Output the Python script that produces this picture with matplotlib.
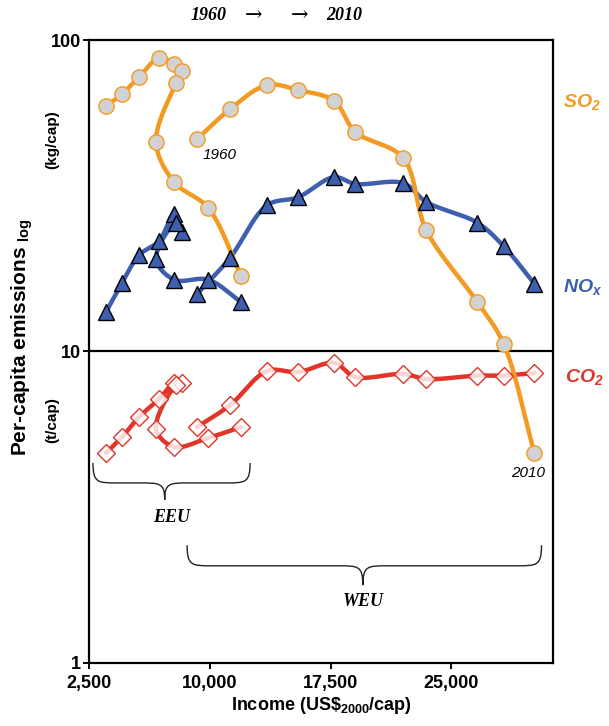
import numpy as np
import matplotlib
matplotlib.use('Agg')
import matplotlib.pyplot as plt
import matplotlib.transforms as mtransforms
from matplotlib.path import Path
from matplotlib.patches import PathPatch

plt.rcParams['font.family'] = ['Liberation Sans', 'DejaVu Sans']
plt.rcParams['mathtext.fontset'] = 'custom'
plt.rcParams['mathtext.rm'] = 'Liberation Sans'
plt.rcParams['mathtext.bf'] = 'Liberation Sans:bold'
plt.rcParams['mathtext.bfit'] = 'Liberation Sans:italic:bold'

# income (US$2000/cap), 1960 .. 2010 in 5-year steps
eeu_income = [3560, 4550, 5610, 6850, 7780, 8280, 7910, 6660, 7780, 9900, 11950]
weu_income = [9210, 11260, 13560, 15490, 17720, 19030, 22010, 23440, 26610, 28230, 30150]

# SO2 and NOx in kg/cap, CO2 in t/cap
eeu_so2 = [61.4, 67.1, 76.1, 87.5, 83.7, 79.5, 72.8, 47.1, 35.0, 28.9, 17.5]
weu_so2 = [48.1, 60.0, 71.7, 69.1, 63.7, 50.7, 41.8, 24.5, 14.4, 10.6, 4.72]
eeu_nox = [13.4, 16.6, 20.4, 22.6, 27.6, 24.2, 25.9, 19.8, 17.0, 17.0, 14.4]
weu_nox = [15.3, 20.0, 29.5, 31.3, 36.3, 34.5, 34.7, 30.2, 25.9, 21.8, 16.5]
eeu_co2 = [4.72, 5.31, 6.16, 7.04, 7.92, 7.92, 7.81, 5.64, 4.94, 5.28, 5.72]
weu_co2 = [5.72, 6.73, 8.66, 8.59, 9.19, 8.28, 8.47, 8.16, 8.37, 8.37, 8.53]

xticks = [2500, 10000, 17500, 25000]
xticklabels = ['2,500', '10,000', '17,500', '25,000']
yticks = [1, 10, 100]
yticklabels = ['1', '10', '100']

orange = '#f39a22'
blue = '#3e5eae'
red = '#e1352a'
serif = ['Liberation Serif', 'DejaVu Serif']


def smooth(x, y, n=16):
    # centripetal catmull-rom through the points, in screen-like units
    sx, sy = 62.0, 311.0
    P = np.column_stack([np.asarray(x, float) / sx, np.log10(y) * sy])
    P = np.vstack([2 * P[0] - P[1], P, 2 * P[-1] - P[-2]])
    out = []
    for i in range(1, len(P) - 2):
        p0, p1, p2, p3 = P[i - 1], P[i], P[i + 1], P[i + 2]
        t0 = 0.0
        t1 = t0 + max(np.linalg.norm(p1 - p0) ** 0.5, 1e-6)
        t2 = t1 + max(np.linalg.norm(p2 - p1) ** 0.5, 1e-6)
        t3 = t2 + max(np.linalg.norm(p3 - p2) ** 0.5, 1e-6)
        t = np.linspace(t1, t2, n)[:, None]
        a1 = (t1 - t) / (t1 - t0) * p0 + (t - t0) / (t1 - t0) * p1
        a2 = (t2 - t) / (t2 - t1) * p1 + (t - t1) / (t2 - t1) * p2
        a3 = (t3 - t) / (t3 - t2) * p2 + (t - t2) / (t3 - t2) * p3
        b1 = (t2 - t) / (t2 - t0) * a1 + (t - t0) / (t2 - t0) * a2
        b2 = (t3 - t) / (t3 - t1) * a2 + (t - t1) / (t3 - t1) * a3
        c = (t2 - t) / (t2 - t1) * b1 + (t - t1) / (t2 - t1) * b2
        out.append(c if i == 1 else c[1:])
    c = np.vstack(out)
    return c[:, 0] * sx, 10 ** (c[:, 1] / sy)


def series(ax, x, y, color, marker, ms, mfc, mec):
    sx, sy = smooth(x, y)
    ax.plot(sx, sy, color=color, lw=3.2, solid_capstyle='round', zorder=2)
    ax.plot(x, y, ls='none', marker=marker, ms=ms, mfc=mfc, mec=mec, mew=1.0, zorder=3)


def brace(ax, x0, x1, xc, ytop, ymid, ytip, r=1500):
    tr = mtransforms.blended_transform_factory(ax.transData, ax.transAxes)
    verts = [(x0, ytop),
             (x0, ymid), (x0 + 0.2 * r, ymid), (x0 + r, ymid),
             (xc - r, ymid),
             (xc - 0.2 * r, ymid), (xc, ymid), (xc, ytip),
             (xc, ymid), (xc + 0.2 * r, ymid), (xc + r, ymid),
             (x1 - r, ymid),
             (x1 - 0.2 * r, ymid), (x1, ymid), (x1, ytop)]
    codes = [Path.MOVETO,
             Path.CURVE4, Path.CURVE4, Path.CURVE4,
             Path.LINETO,
             Path.CURVE4, Path.CURVE4, Path.CURVE4,
             Path.CURVE4, Path.CURVE4, Path.CURVE4,
             Path.LINETO,
             Path.CURVE4, Path.CURVE4, Path.CURVE4]
    ax.add_patch(PathPatch(Path(verts, codes), fc='none', ec='#222222', lw=1.0,
                           transform=tr, clip_on=False))


fig = plt.figure(figsize=(6.09, 7.26), dpi=100)
ax = fig.add_axes([0.1461, 0.0868, 0.7619, 0.8581])

series(ax, eeu_income, eeu_co2, red, 'D', 9, (1, 1, 1, 0.8), red)
series(ax, weu_income, weu_co2, red, 'D', 9, (1, 1, 1, 0.8), red)
series(ax, eeu_income, eeu_nox, blue, '^', 11, blue, 'black')
series(ax, weu_income, weu_nox, blue, '^', 11, blue, 'black')
series(ax, eeu_income, eeu_so2, orange, 'o', 11, '#d2d2d2', orange)
series(ax, weu_income, weu_so2, orange, 'o', 11, '#d2d2d2', orange)

ax.axhline(10, color='black', lw=1.6, zorder=1)

ax.set_yscale('log')
ax.set_xlim(2500, 31300)
ax.set_ylim(1, 100)
ax.set_xticks(xticks)
ax.set_xticklabels(xticklabels)
ax.set_yticks(yticks)
ax.set_yticklabels(yticklabels)
ax.minorticks_off()
ax.tick_params(direction='out', length=4, width=1.4, labelsize=13)
ax.tick_params(axis='x', pad=5)
ax.tick_params(axis='y', pad=2)
for lab in ax.get_xticklabels() + ax.get_yticklabels():
    lab.set_fontweight('bold')
for sp in ax.spines.values():
    sp.set_linewidth(1.6)

ax.set_xlabel(r'Income (US\$$_{\mathbf{2000}}$/cap)', fontsize=13, fontweight='bold', labelpad=2)

fig.text(0.036, 0.536, r'Per-capita emissions $_{\mathbf{log}}$', rotation=90,
         ha='center', va='center', fontsize=15, fontweight='bold')
fig.text(0.085, 0.807, '(kg/cap)', rotation=90, ha='center', va='center',
         fontsize=11, fontweight='bold')
fig.text(0.085, 0.421, '(t/cap)', rotation=90, ha='center', va='center',
         fontsize=11, fontweight='bold')

# top time direction hint
fig.text(0.343, 0.978, '1960', ha='center', va='center', fontsize=13,
         fontweight='bold', style='italic', family=serif)
fig.text(0.416, 0.979, '\u2192', ha='center', va='center', fontsize=15, family=['DejaVu Serif'])
fig.text(0.492, 0.979, '\u2192', ha='center', va='center', fontsize=15, family=['DejaVu Serif'])
fig.text(0.566, 0.978, '2010', ha='center', va='center', fontsize=13,
         fontweight='bold', style='italic', family=serif)

ax.text(1.022, 0.899, r'SO$_{\mathbfit{2}}$', transform=ax.transAxes, ha='left', va='center',
        fontsize=14, fontweight='bold', style='italic', color=orange, clip_on=False)
ax.text(1.022, 0.602, r'NO$_{\mathbfit{x}}$', transform=ax.transAxes, ha='left', va='center',
        fontsize=14, fontweight='bold', style='italic', color=blue, clip_on=False)
ax.text(1.026, 0.4575, r'CO$_{\mathbfit{2}}$', transform=ax.transAxes, ha='left', va='center',
        fontsize=14, fontweight='bold', style='italic', color=red, clip_on=False)

ax.text(0.282, 0.815, '1960', transform=ax.transAxes, ha='center', va='center',
        fontsize=11, style='italic')
ax.text(0.946, 0.305, '2010', transform=ax.transAxes, ha='center', va='center',
        fontsize=11, style='italic')

brace(ax, 2750, 12500, 7200, 0.321, 0.289, 0.262)
brace(ax, 8590, 30590, 19500, 0.189, 0.156, 0.125)
ax.text(0.179, 0.234, 'EEU', transform=ax.transAxes, ha='center', va='center',
        fontsize=13, fontweight='bold', style='italic', family=serif)
ax.text(0.5905, 0.098, 'WEU', transform=ax.transAxes, ha='center', va='center',
        fontsize=13, fontweight='bold', style='italic', family=serif)

fig.savefig('out.png', dpi=100)
